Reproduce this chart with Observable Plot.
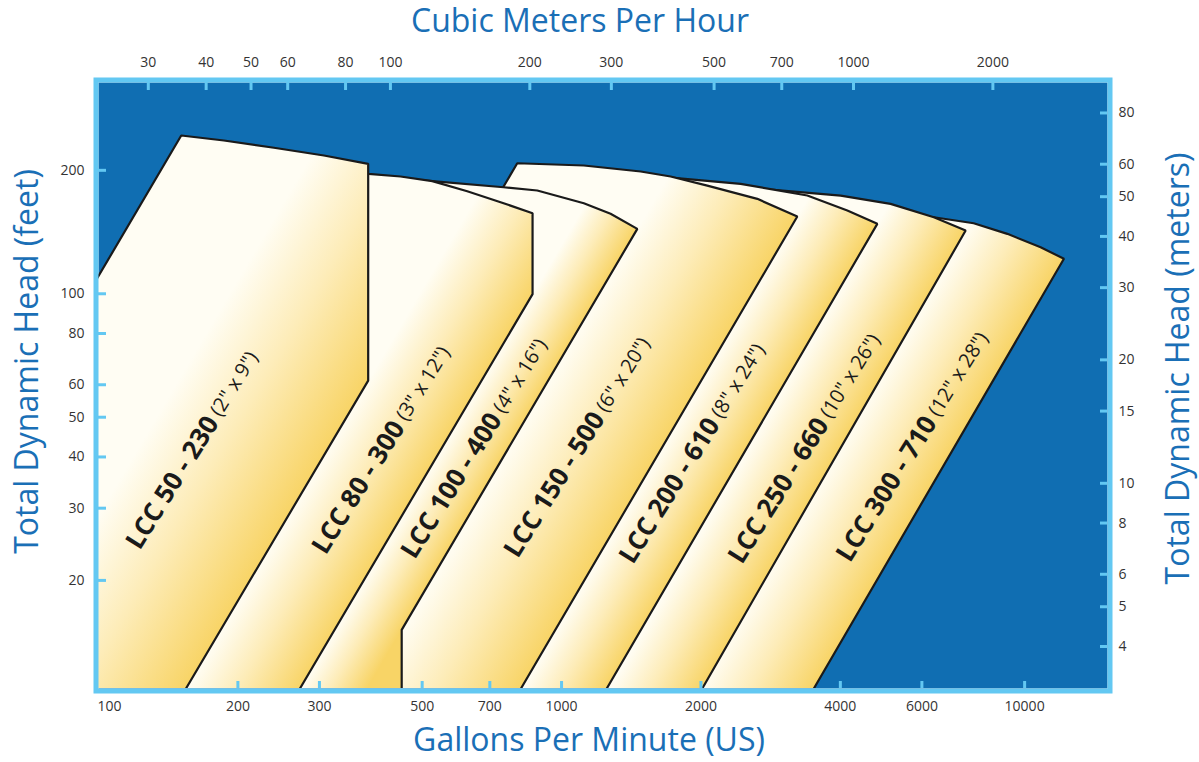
<!DOCTYPE html>
<html>
<head>
<meta charset="utf-8">
<script src="https://cdn.jsdelivr.net/npm/d3@7"></script>
<script src="https://cdn.jsdelivr.net/npm/@observablehq/plot@0.6"></script>
<style>
  html, body { margin: 0; padding: 0; background: #ffffff; }
  #chart svg { display: block; }
</style>
</head>
<body>
<div id="chart"></div>
<script>
// ---------------- data ----------------
const gpmTicks   = [100, 200, 300, 500, 700, 1000, 2000, 4000, 6000, 10000];
const m3hTicks   = [30, 40, 50, 60, 80, 100, 200, 300, 500, 700, 1000, 2000];
const feetTicks  = [20, 30, 40, 50, 60, 80, 100, 200];
const meterTicks = [4, 5, 6, 8, 10, 15, 20, 30, 40, 50, 60, 80];
const GPM_PER_M3H = 4.27;     // secondary-axis conversion as drawn
const FEET_PER_METER = 3.45;  // secondary-axis conversion as drawn
const gpmDomain  = [100, 15100];
const feetDomain = [10.9, 327.5];

const pumpNames = ["LCC 50 - 230", "LCC 80 - 300", "LCC 100 - 400", "LCC 150 - 500",
                   "LCC 200 - 610", "LCC 250 - 660", "LCC 300 - 710"];
const pumpSizes = ['(2" x 9")', '(3" x 12")', '(4" x 16")', '(6" x 20")',
                   '(8" x 24")', '(10" x 26")', '(12" x 28")'];
// top curve of each envelope [gpm, feet], from top-left corner to top-right corner
const pumpTops = [
  [[150.9, 243.2], [186.5, 236.5], [239.2, 227.0], [306.7, 217.4], [382.3, 207.4]],
  [[368.1, 197.0], [382.9, 196.1], [448.9, 193.2], [525.8, 188.2], [625.6, 177.8], [738.5, 167.2], [865.7, 157.2]],
  [[496.0, 189.1], [525.8, 188.2], [749.6, 181.9], [886.2, 178.6], [1117, 166.3], [1276, 156.7], [1457.5, 144.0]],
  [[802.3, 208.1], [1117, 205.5], [1482, 198.7], [1720, 193.2], [2064, 183.6], [2647, 170.4], [3229, 154.3]],
  [[1482, 191.0], [1748, 191.8], [2436, 185.4], [3394, 173.6], [4141, 159.6], [4807, 148.1]],
  [[2436, 179.6], [2874, 179.3], [4006, 173.6], [5135, 165.7], [6368, 153.7], [7458, 142.6]],
  [[4887, 156.1], [6368, 153.7], [7761, 148.6], [9176, 140.0], [10828, 129.9], [12159, 121.7]]
];
// right boundary below the top-right corner [gpm, feet] (knee if any, then foot)
const pumpRight = [
  [[382.3, 61.4], [154.5, 10.9]],
  [[865.7, 99.8], [272.3, 10.9]],
  [[451.6, 15.15], [451.6, 10.9]],
  [[817.2, 10.9]],
  [[1252, 10.9]],
  [[2013, 10.9]],
  [[3506, 10.9]]
];
// foot of the left (minimum-flow) boundary, gpm at the bottom of the chart
const pumpLeftFoot = [29.9, 81.5, 112.1, 172.6, 333.2, 565.9, 1221];
// point on each label where the bold model name meets the size text [gpm, feet]
const labelAt = [[176.3, 49.6], [444.6, 48.3], [720.3, 50.5], [1202, 50.8],
                 [2130, 49.1], [3662, 49.1], [6267, 49.6]];

// ---------------- styling ----------------
const BLUE_BG = "#106eb2";
const BORDER = "#63c8f2";
const TITLE = "#1a6fb6";
const INK = "#1a1a1a";
const FONT = "'Open Sans', 'Noto Sans', sans-serif";

const shapes = pumpNames.map((name, i) =>
  [[pumpLeftFoot[i], feetDomain[0]], ...pumpTops[i], ...pumpRight[i]]
    .map(([gpm, ft]) => ({gpm, ft, name})));

// diagonal (maximum-flow) line of each envelope, used for shading
function diagonal(i) {
  const corner = pumpTops[i][pumpTops[i].length - 1];
  const r = pumpRight[i];
  if (i === 2) return [corner, r[0]];          // diagonal then vertical
  if (r.length === 2) return [r[0], r[1]];     // vertical then diagonal
  return [corner, r[0]];
}

const shapeMarks = shapes.map((pts, i) =>
  Plot.line(pts, {x: "gpm", y: "ft", fill: `url(#pumpgrad${i})`, stroke: INK,
                  strokeWidth: 2.2, strokeLinejoin: "miter", clip: true})
).reverse();

const tickText = {fill: "#333", fontSize: 14, lineAnchor: "middle"};
const titleText = {fill: TITLE, fontSize: 32, lineAnchor: "middle", textAnchor: "middle"};

const W = 1199, H = 762;
const plot = Plot.plot({
  width: W, height: H,
  marginLeft: 98, marginRight: 92, marginTop: 82, marginBottom: 74,
  x: {type: "log", domain: gpmDomain, axis: null},
  y: {type: "log", domain: feetDomain, axis: null},
  style: {fontFamily: FONT, fontSize: "14px", background: "#ffffff", overflow: "visible"},
  marks: [
    Plot.frame({fill: BLUE_BG}),
    ...shapeMarks,
    // inner tick marks
    Plot.tickX(gpmTicks.filter(d => d > gpmDomain[0]), {x: d => d, stroke: BORDER, strokeWidth: 3, insetTop: 599}),
    Plot.tickX(m3hTicks, {x: d => d * GPM_PER_M3H, stroke: BORDER, strokeWidth: 3, insetBottom: 598}),
    Plot.tickY(feetTicks, {y: d => d, stroke: BORDER, strokeWidth: 3, insetRight: 1001}),
    Plot.tickY(meterTicks, {y: d => d * FEET_PER_METER, stroke: BORDER, strokeWidth: 3, insetLeft: 1002}),
    Plot.frame({stroke: BORDER, strokeWidth: 5, inset: -2.5}),
    // tick labels
    Plot.text(gpmTicks.slice(0, 1), {x: d => d, text: d => String(d), frameAnchor: "bottom", dy: 18, dx: -1, textAnchor: "start", ...tickText}),
    Plot.text(gpmTicks.slice(1), {x: d => d, text: d => String(d), frameAnchor: "bottom", dy: 18, textAnchor: "middle", ...tickText}),
    Plot.text(m3hTicks, {x: d => d * GPM_PER_M3H, text: d => String(d), frameAnchor: "top", dy: -20, textAnchor: "middle", ...tickText}),
    Plot.text(feetTicks, {y: d => d, text: d => String(d), frameAnchor: "left", textAnchor: "end", dx: -14, ...tickText}),
    Plot.text(meterTicks, {y: d => d * FEET_PER_METER, text: d => String(d), frameAnchor: "right", textAnchor: "start", dx: 11, ...tickText}),
    // axis titles
    Plot.text(["Cubic Meters Per Hour"], {text: d => d, frameAnchor: "top", dx: -23, dy: -61, ...titleText}),
    Plot.text(["Gallons Per Minute (US)"], {text: d => d, frameAnchor: "bottom", dx: -14, dy: 52, ...titleText}),
    Plot.text(["Total Dynamic Head (feet)"], {text: d => d, frameAnchor: "left", rotate: -90, dx: -71, dy: -24, ...titleText}),
    Plot.text(["Total Dynamic Head (meters)"], {text: d => d, frameAnchor: "right", rotate: -90, dx: 71, dy: -17, ...titleText}),
    // envelope labels
    Plot.text(pumpNames, {x: (d, i) => labelAt[i][0], y: (d, i) => labelAt[i][1], text: d => d,
      rotate: -58, textAnchor: "end", lineAnchor: "middle", fontWeight: 700, fontSize: 26, fill: INK}),
    Plot.text(pumpSizes, {x: (d, i) => labelAt[i][0], y: (d, i) => labelAt[i][1], text: d => "\u00a0" + d,
      rotate: -58, textAnchor: "start", lineAnchor: "middle", fontSize: 20, fill: INK})
  ]
});

// ---- gradients: pale at the left edge of each band, golden at its max-flow line ----
const sx = plot.scale("x"), sy = plot.scale("y");
const X = d3.scaleLog(sx.domain, sx.range), Y = d3.scaleLog(sy.domain, sy.range);
const px = ([g, f]) => [X(g), Y(f)];
const svg = d3.select(plot);
const defs = svg.insert("defs", ":first-child");
pumpNames.forEach((n, i) => {
  const [e1, e2] = diagonal(i).map(px);
  let dx = e2[0] - e1[0], dy = e2[1] - e1[1];
  const len = Math.hypot(dx, dy); dx /= len; dy /= len;
  let nx = -dy, ny = dx; if (nx < 0) { nx = -nx; ny = -ny; }
  const s = i === 0 ? px([60, feetDomain[0]]) : px(diagonal(i - 1)[0]);
  const t = (e1[0] - s[0]) * nx + (e1[1] - s[1]) * ny;
  const g = defs.append("linearGradient").attr("id", `pumpgrad${i}`)
    .attr("gradientUnits", "userSpaceOnUse")
    .attr("x1", s[0]).attr("y1", s[1])
    .attr("x2", s[0] + t * nx).attr("y2", s[1] + t * ny);
  g.append("stop").attr("offset", 0).attr("stop-color", "#fffdf3");
  g.append("stop").attr("offset", 0.45).attr("stop-color", "#fdecb8");
  g.append("stop").attr("offset", 1).attr("stop-color", "#f8d466");
});

document.getElementById("chart").append(plot);
</script>
</body>
</html>
